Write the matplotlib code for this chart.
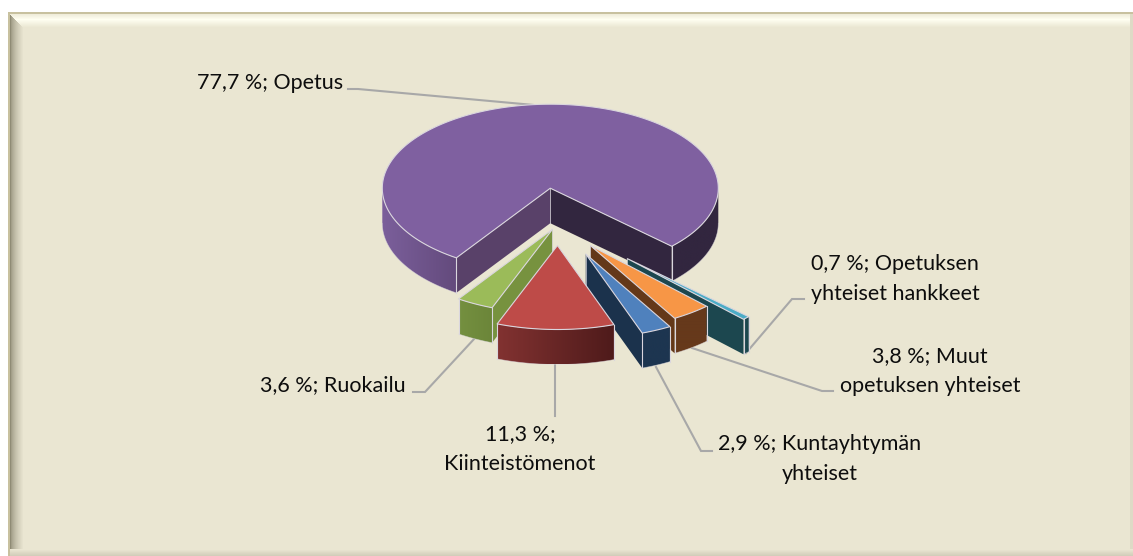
import numpy as np
import matplotlib
matplotlib.use('Agg')
import matplotlib.pyplot as plt
from matplotlib.colors import to_rgb
from matplotlib.patches import Polygon

W, H = 1133, 556

# slices clockwise, same order as the chart data
names = ['Opetus', 'Opetuksen yhteiset hankkeet', 'Muut opetuksen yhteiset',
         'Kuntayhtymän yhteiset', 'Kiinteistömenot', 'Ruokailu']
shares = [77.7, 0.7, 3.8, 2.9, 11.3, 3.6]
label_lines = [['77,7 %; Opetus'],
               ['0,7 %; Opetuksen', 'yhteiset hankkeet'],
               ['3,8 %; Muut', 'opetuksen yhteiset'],
               ['2,9 %; Kuntayhtymän', 'yhteiset'],
               ['11,3 %;', 'Kiinteistömenot'],
               ['3,6 %; Ruokailu']]

# styles
top_col = ['#7F60A0', '#4BACC6', '#F79646', '#4F81BD', '#BE4B48', '#9BBB59']
cut_col = {0: ('#594169', '#32263F'), 1: ('#1C474F', '#1C474F'), 2: ('#643819', '#643819'),
           3: ('#1B324C', '#1B324C'), 4: ('#5E2423', '#5E2423'), 5: ('#77923F', '#77923F')}
wall_stops = {0: ([-1, -0.55, 0.7, 1], ['#7B5F9B', '#634A7C', '#32263F', '#32263F']),
              1: ([-1, 1], ['#1C474F', '#1C474F']),
              2: ([-1, 1], ['#66391B', '#66391B']),
              3: ([-1, 1], ['#1D3550', '#1D3550']),
              4: ([-0.36, 0.36], ['#823231', '#4D1A1A']),
              5: ([-0.8, -0.35], ['#7F9C47', '#6B8539'])}
explode = [72, 98, 54, 66, 43, 12]
draw_order = [0, 1, 2, 3, 5, 4]
label_xy = [(270, 83), (895, 264), (930, 356), (820, 444), (520, 434), (333, 385)]
line_h = 29.5
leaders = [[(348, 89), (358, 89), (534, 105)],
           [(746, 353), (792, 299), (804, 299)],
           [(692, 348), (822, 391), (833, 391)],
           [(656, 367), (701, 451), (712, 451)],
           [(555, 363), (555, 416)],
           [(413, 392), (425, 392), (475, 338)]]

cx, cy = 558, 224
rx, squash, depth = 168, 0.5, 35
start = -124
edge = '#DAD6DE'


def background():
    bg = np.array(to_rgb('#EAE6D2'))
    img = np.ones((H, W, 3))
    yy, xx = np.mgrid[0:H, 0:W]
    img[(xx >= 8) & (yy >= 12)] = bg
    # top band, light
    top_c = np.array(to_rgb('#FFFFF1'))
    left_c = np.array(to_rgb('#8F8B75'))
    for y in range(14, 28):
        t = np.clip(abs(y - 19) / (8 if y > 19 else 7), 0, 1)
        m = (yy == y) & (xx - 10 >= y - 14)
        img[m] = top_c * (1 - t) + bg * t
    # left band, dark
    for x in range(10, 24):
        t = np.clip((x - 10) / 13, 0, 1) ** 0.6
        m = (xx == x) & (yy - 14 > x - 10)
        img[m] = left_c * (1 - t) + bg * t
    # frame line
    img[(yy >= 12) & (yy < 14) & (xx >= 8)] = to_rgb('#C8C19F')
    img[(xx >= 8) & (xx < 10) & (yy >= 12)] = to_rgb('#C8C19F')
    # right and bottom bands
    img[(xx >= 1130) & (yy >= 14)] = to_rgb('#DEDAC6')
    for y in range(549, H):
        t = (y - 549) / 7
        img[(yy == y) & (xx >= 10)] = bg * (1 - t) + np.array(to_rgb('#CFCAB6')) * t
    return img


def point(x0, y0, ang, r=rx):
    a = np.radians(ang)
    return x0 + r * np.cos(a), y0 - r * squash * np.sin(a)


def draw_wall(ax, i, x0, y0, a1, a2):
    # a1 > a2, clockwise, only the part that faces the viewer
    z = 2 + draw_order.index(i)
    pos, cols = wall_stops[i]
    rgb = np.array([to_rgb(c) for c in cols])
    for shift in (0, -360, 360):
        lo, hi = max(a2, -180 + shift), min(a1, 0 + shift)
        if lo >= hi:
            continue
        arc = np.linspace(lo, hi, int(hi - lo) * 2 + 3)
        upper = [point(x0, y0, a) for a in arc]
        lower = [point(x0, y0 + depth, a) for a in arc[::-1]]
        outline = upper + lower
        xs = [p[0] for p in outline]
        ys = [p[1] for p in outline]
        # gradient runs left to right, clipped to the wall shape
        grid = np.linspace(min(xs), max(xs), 64)
        c = (grid - x0) / rx
        strip = np.stack([np.interp(c, pos, rgb[:, k]) for k in range(3)], axis=1)[None, :, :]
        im = ax.imshow(strip, extent=(min(xs), max(xs), max(ys), min(ys)), aspect='auto',
                       interpolation='bilinear', zorder=z)
        im.set_clip_path(Polygon(outline, closed=True, transform=ax.transData))
        ax.plot(*zip(*lower), color=edge, lw=0.5, alpha=0.6, zorder=z)


def draw_slice(ax, i, a1, a2):
    z = 2 + draw_order.index(i)
    mid = np.radians((a1 + a2) / 2)
    x0 = cx + explode[i] * np.cos(mid)
    y0 = cy - explode[i] * squash * np.sin(mid)

    # cut faces, only when they look towards us
    for k, (ang, normal) in enumerate([(a1, a1 + 90), (a2, a2 - 90)]):
        if np.sin(np.radians(normal)) < 0:
            px, py = point(x0, y0, ang)
            ax.fill([x0, px, px, x0], [y0, py, py + depth, y0 + depth],
                    facecolor=cut_col[i][k], edgecolor='none', zorder=z)
            ax.plot([x0, x0], [y0, y0 + depth], color=edge, lw=0.7, alpha=0.7, zorder=z)

    draw_wall(ax, i, x0, y0, a1, a2)

    # corners on the outer rim
    for ang in (a1, a2):
        if np.sin(np.radians(ang)) < 0:
            px, py = point(x0, y0, ang)
            ax.plot([px, px], [py, py + depth], color=edge, lw=0.8, zorder=z)

    arc = np.linspace(a1, a2, max(3, int(a1 - a2) * 2))
    xs = [x0] + [point(x0, y0, a)[0] for a in arc] + [x0]
    ys = [y0] + [point(x0, y0, a)[1] for a in arc] + [y0]
    ax.fill(xs, ys, facecolor=top_col[i], edgecolor=edge, lw=0.8, joinstyle='round', zorder=z)


fig = plt.figure(figsize=(W / 100, H / 100), dpi=100)
ax = fig.add_axes([0, 0, 1, 1])
ax.imshow(background(), extent=(0, W, H, 0), interpolation='nearest', zorder=0, aspect='auto')

angles = start - np.cumsum([0] + [s * 3.6 for s in shares])
for i in draw_order:
    draw_slice(ax, i, angles[i], angles[i + 1])

for pts in leaders:
    ax.plot(*zip(*pts), color='#A8A8A8', lw=1.5, solid_joinstyle='miter', zorder=1)

for lines, (x, y) in zip(label_lines, label_xy):
    for n, t in enumerate(lines):
        ax.text(x, y + n * line_h, t, ha='center', va='center', family='Lato',
                fontsize=15.5, color='#0D0D0D', zorder=20)

ax.set_xlim(0, W)
ax.set_ylim(H, 0)
ax.axis('off')

fig.savefig('out.png', dpi=100)
